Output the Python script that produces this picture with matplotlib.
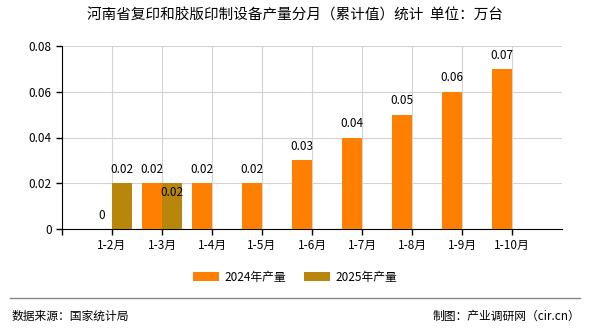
import matplotlib
matplotlib.use("Agg")
import matplotlib.pyplot as plt
import numpy as np

plt.rcParams['font.family'] = ['Noto Sans CJK SC', 'DejaVu Sans']

months = ["1-2月", "1-3月", "1-4月", "1-5月", "1-6月", "1-7月", "1-8月", "1-9月", "1-10月"]
vals_2024 = [0, 0.02, 0.02, 0.02, 0.03, 0.04, 0.05, 0.06, 0.07]
vals_2025 = [0.02, 0.02]

c2024 = "#FF8000"
c2025 = "#B8860B"

fig = plt.figure(figsize=(5.9, 3.3), dpi=100)
ax = fig.add_axes([62/590, 1-229/330, 500/590, 183/330])

x = np.arange(len(months))
w = 0.4
ax.bar(x - w/2, vals_2024, w, color=c2024, label="2024年产量", zorder=3)
x25 = np.arange(len(vals_2025))
ax.bar(x25 + w/2, vals_2025, w, color=c2025, label="2025年产量", zorder=3)

# value labels
for i, v in enumerate(vals_2024):
    ax.text(i - w/2, v + 0.0032, f"{v:g}", ha="center", va="bottom", fontsize=8.5)
for i, v in enumerate(vals_2025):
    if i == 1:
        # sits inside the bar to avoid the 2024 label
        ax.text(i + w/2, v - 0.0012, f"{v:g}", ha="center", va="top", fontsize=8.5)
    else:
        ax.text(i + w/2, v + 0.0032, f"{v:g}", ha="center", va="bottom", fontsize=8.5)

ax.set_xlim(-1, 9)
ax.set_ylim(0, 0.08)
ax.set_yticks([0, 0.02, 0.04, 0.06, 0.08])
ax.set_yticklabels(["0", "0.02", "0.04", "0.06", "0.08"], fontsize=8.5)
ax.set_xticks(np.arange(-1, 9))
ax.set_xticklabels([""] + months, fontsize=8.5)
ax.grid(True, color="#d3d3d3", linewidth=0.8, zorder=0)
ax.set_axisbelow(True)
for s in ["top", "right"]:
    ax.spines[s].set_visible(False)
ax.tick_params(axis="both", length=4, width=1, color="black")
ax.spines["left"].set_color("black")
ax.spines["bottom"].set_color("black")

fig.text(0.5, 1-16/330, "河南省复印和胶版印制设备产量分月（累计值）统计  单位：万台",
         ha="center", va="center", fontsize=10.5)

fig.legend(loc="center", bbox_to_anchor=(0.5, 1-277/330), ncol=2, frameon=False,
           fontsize=8.5, handlelength=2.2, handleheight=0.8, columnspacing=1.5,
           handletextpad=0.5)

fig.add_artist(plt.Line2D([10/590, 580/590], [1-298/330, 1-298/330],
                          color="#888888", linewidth=1))
fig.text(12/590, 1-316/330, "数据来源：国家统计局", ha="left", va="center", fontsize=8.5)
fig.text(580/590, 1-316/330, "制图：产业调研网（cir.cn）", ha="right", va="center", fontsize=8.5)

fig.savefig("out.png", dpi=100)
